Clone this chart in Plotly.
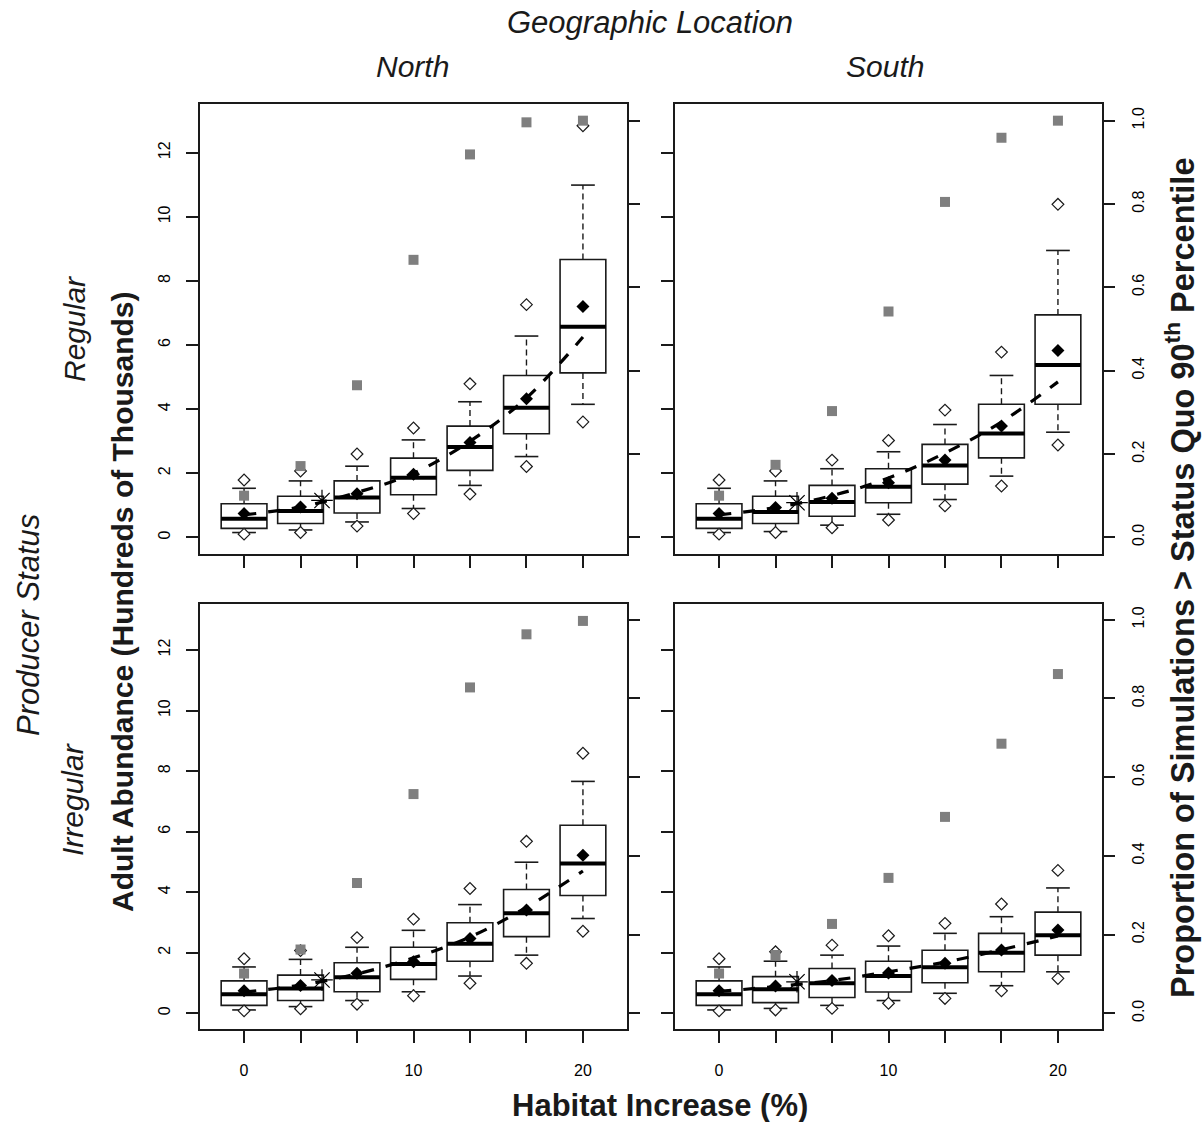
import plotly.graph_objects as go

# ---------------- data ----------------
POS = [0, 3.333, 6.667, 10, 13.333, 16.667, 20]
X_LABEL_VALS = [0, 10, 20]
X_LABEL_TEXT = ["0", "10", "20"]
X_MINOR_VALS = [3.333, 6.667, 13.333, 16.667]
Y_TICKS = [0, 2, 4, 6, 8, 10, 12]
P_TICKS = [0.0, 0.2, 0.4, 0.6, 0.8, 1.0]
P_TICK_TEXT = ["0.0", "0.2", "0.4", "0.6", "0.8", "1.0"]

LOCATIONS = ["North", "South"]
STATUSES = ["Regular", "Irregular"]

# North / Regular
NR_Q1 = [0.28, 0.43, 0.76, 1.33, 2.09, 3.23, 5.13]
NR_MED = [0.58, 0.82, 1.24, 1.86, 2.82, 4.04, 6.57]
NR_Q3 = [1.05, 1.28, 1.76, 2.47, 3.47, 5.05, 8.67]
NR_WLO = [0.15, 0.23, 0.48, 0.90, 1.62, 2.52, 4.15]
NR_WHI = [1.53, 1.76, 2.22, 3.04, 4.23, 6.28, 10.99]
NR_PLO = [0.10, 0.15, 0.35, 0.74, 1.35, 2.21, 3.60]
NR_PHI = [1.79, 2.07, 2.60, 3.41, 4.79, 7.26, 12.84]
NR_MEAN = [0.74, 0.95, 1.36, 1.97, 2.96, 4.32, 7.20]
NR_PROP = [0.10, 0.171, 0.365, 0.666, 0.919, 0.996, 1.0]
NR_TREND = [0.70, 0.95, 1.40, 2.00, 3.00, 4.35, 6.25]

# South / Regular
SR_Q1 = [0.28, 0.43, 0.66, 1.08, 1.66, 2.48, 4.15]
SR_MED = [0.58, 0.79, 1.10, 1.58, 2.24, 3.24, 5.38]
SR_Q3 = [1.05, 1.28, 1.62, 2.14, 2.90, 4.15, 6.94]
SR_WLO = [0.15, 0.18, 0.38, 0.72, 1.18, 1.91, 3.28]
SR_WHI = [1.53, 1.76, 2.14, 2.67, 3.52, 5.05, 8.95]
SR_PLO = [0.10, 0.15, 0.30, 0.54, 0.98, 1.60, 2.88]
SR_PHI = [1.79, 2.07, 2.41, 3.02, 3.97, 5.78, 10.39]
SR_MEAN = [0.74, 0.93, 1.22, 1.70, 2.41, 3.47, 5.83]
SR_PROP = [0.10, 0.174, 0.303, 0.542, 0.805, 0.959, 1.0]
SR_TREND = [0.70, 0.93, 1.30, 1.85, 2.63, 3.60, 4.85]

# North / Irregular
NI_Q1 = [0.26, 0.42, 0.71, 1.12, 1.72, 2.53, 3.89]
NI_MED = [0.63, 0.82, 1.19, 1.63, 2.30, 3.30, 4.95]
NI_Q3 = [1.07, 1.26, 1.67, 2.18, 2.99, 4.09, 6.21]
NI_WLO = [0.11, 0.22, 0.42, 0.71, 1.23, 1.92, 3.13]
NI_WHI = [1.53, 1.78, 2.18, 2.74, 3.59, 4.99, 7.66]
NI_PLO = [0.08, 0.15, 0.30, 0.58, 0.99, 1.65, 2.71]
NI_PHI = [1.80, 2.07, 2.50, 3.11, 4.12, 5.68, 8.59]
NI_MEAN = [0.74, 0.92, 1.32, 1.70, 2.47, 3.41, 5.22]
NI_PROP = [0.101, 0.162, 0.331, 0.557, 0.828, 0.963, 0.997]
NI_TREND = [0.70, 0.93, 1.30, 1.83, 2.52, 3.50, 4.70]

# South / Irregular
SI_Q1 = [0.26, 0.35, 0.52, 0.70, 1.01, 1.37, 1.92]
SI_MED = [0.63, 0.79, 0.99, 1.23, 1.52, 2.00, 2.58]
SI_Q3 = [1.07, 1.21, 1.48, 1.72, 2.08, 2.64, 3.34]
SI_WLO = [0.11, 0.16, 0.26, 0.42, 0.66, 0.91, 1.37]
SI_WHI = [1.53, 1.72, 1.92, 2.22, 2.64, 3.19, 4.14]
SI_PLO = [0.08, 0.11, 0.16, 0.33, 0.49, 0.74, 1.15]
SI_PHI = [1.80, 2.03, 2.25, 2.56, 2.97, 3.61, 4.72]
SI_MEAN = [0.74, 0.90, 1.08, 1.33, 1.65, 2.09, 2.75]
SI_PROP = [0.101, 0.148, 0.227, 0.344, 0.499, 0.685, 0.862]
SI_TREND = [0.72, 0.88, 1.08, 1.37, 1.69, 2.10, 2.55]

# status-quo reference point (asterisk)
STAR_X = [4.6, 4.6, 4.6, 4.6]
STAR_Y = [1.15, 1.08, 1.10, 1.04]

# ---------------- styling ----------------
FONT = "Liberation Sans, Arial, sans-serif"
INK = "#1a1a1a"
BOXW = 2.7
CAPW = 1.4
X_RANGE = [-2.6, 22.6]
Y_RANGE = [-0.52, 13.52]
P_RANGE = [-0.04, 1.04]
W, H = 1202, 1122

XDOM = [[200 / W, 627 / W], [675 / W, 1102 / W]]
YDOM = [[1 - 554 / H, 1 - 104 / H], [1 - 1029 / H, 1 - 604 / H]]

panels = [
    (0, 0, (NR_Q1, NR_MED, NR_Q3, NR_WLO, NR_WHI, NR_PLO, NR_PHI, NR_MEAN, NR_PROP, NR_TREND)),
    (0, 1, (SR_Q1, SR_MED, SR_Q3, SR_WLO, SR_WHI, SR_PLO, SR_PHI, SR_MEAN, SR_PROP, SR_TREND)),
    (1, 0, (NI_Q1, NI_MED, NI_Q3, NI_WLO, NI_WHI, NI_PLO, NI_PHI, NI_MEAN, NI_PROP, NI_TREND)),
    (1, 1, (SI_Q1, SI_MED, SI_Q3, SI_WLO, SI_WHI, SI_PLO, SI_PHI, SI_MEAN, SI_PROP, SI_TREND)),
]

fig = go.Figure()
layout = {}

for k, (row, col, d) in enumerate(panels):
    q1, med, q3, wlo, whi, plo, phi, mean, prop, trend = d
    n = k + 1
    xa = "x" if n == 1 else f"x{n}"
    ya = "y" if n == 1 else f"y{n}"
    ya2 = f"y{n + 4}"

    # boxes
    fig.add_trace(go.Box(
        x=POS, q1=q1, median=med, q3=q3, lowerfence=q1, upperfence=q3,
        width=BOXW, whiskerwidth=0, boxpoints=False,
        fillcolor="white", line=dict(color=INK, width=1.6),
        xaxis=xa, yaxis=ya, showlegend=False, hoverinfo="skip"))

    # dashed whiskers
    wx, wy = [], []
    for p, a, b, c, e in zip(POS, q3, whi, q1, wlo):
        wx += [p, p, None, p, p, None]
        wy += [a, b, None, c, e, None]
    fig.add_trace(go.Scatter(x=wx, y=wy, mode="lines",
                             line=dict(color=INK, width=1.4, dash="6px,4px"),
                             xaxis=xa, yaxis=ya, showlegend=False, hoverinfo="skip"))
    # whisker caps
    cx, cy = [], []
    for p, b, e in zip(POS, whi, wlo):
        cx += [p - CAPW / 2, p + CAPW / 2, None, p - CAPW / 2, p + CAPW / 2, None]
        cy += [b, b, None, e, e, None]
    fig.add_trace(go.Scatter(x=cx, y=cy, mode="lines",
                             line=dict(color=INK, width=1.6),
                             xaxis=xa, yaxis=ya, showlegend=False, hoverinfo="skip"))
    # thick medians
    mx, my = [], []
    for p, m in zip(POS, med):
        mx += [p - BOXW / 2, p + BOXW / 2, None]
        my += [m, m, None]
    fig.add_trace(go.Scatter(x=mx, y=my, mode="lines",
                             line=dict(color="black", width=4),
                             xaxis=xa, yaxis=ya, showlegend=False, hoverinfo="skip"))
    # fitted trend (dashed)
    fig.add_trace(go.Scatter(x=POS, y=trend, mode="lines",
                             line=dict(color="black", width=3.2, dash="12px,12px", shape="spline"),
                             xaxis=xa, yaxis=ya, showlegend=False, hoverinfo="skip"))
    # percentile diamonds
    fig.add_trace(go.Scatter(x=POS + POS, y=plo + phi, mode="markers",
                             marker=dict(symbol="diamond", size=9, color="white",
                                         line=dict(color=INK, width=1.2)),
                             xaxis=xa, yaxis=ya, showlegend=False, hoverinfo="skip"))
    # mean diamonds
    fig.add_trace(go.Scatter(x=POS, y=mean, mode="markers",
                             marker=dict(symbol="diamond", size=10, color="black"),
                             xaxis=xa, yaxis=ya, showlegend=False, hoverinfo="skip"))
    # status-quo asterisk
    fig.add_trace(go.Scatter(x=[STAR_X[k]], y=[STAR_Y[k]], mode="markers",
                             marker=dict(symbol="asterisk-open", size=18, color="black",
                                         line=dict(color="black", width=1.2)),
                             xaxis=xa, yaxis=ya, showlegend=False, hoverinfo="skip"))
    # proportion squares (right axis)
    fig.add_trace(go.Scatter(x=POS, y=prop, mode="markers",
                             marker=dict(symbol="square", size=10, color="#7f7f7f"),
                             xaxis=xa, yaxis=ya2, showlegend=False, hoverinfo="skip"))

    tickfont = dict(family=FONT, size=16, color="black")
    common = dict(showgrid=False, zeroline=False, ticks="outside", ticklen=12,
                  tickwidth=1.5, tickcolor=INK, tickfont=tickfont)
    layout["xaxis" if n == 1 else f"xaxis{n}"] = dict(
        domain=XDOM[col], anchor=ya, range=X_RANGE,
        tickmode="array", tickvals=X_LABEL_VALS, ticktext=X_LABEL_TEXT,
        minor=dict(tickmode="array", tickvals=X_MINOR_VALS, ticks="outside",
                   ticklen=12, tickwidth=1.5, tickcolor=INK, showgrid=False),
        showticklabels=(row == 1), ticklabelstandoff=14,
        showline=True, mirror=True, linecolor=INK, linewidth=1.5, **common)
    layout["yaxis" if n == 1 else f"yaxis{n}"] = dict(
        domain=YDOM[row], anchor=xa, range=Y_RANGE,
        tickmode="array", tickvals=Y_TICKS, ticktext=[str(v) for v in Y_TICKS],
        showticklabels=(col == 0), tickangle=-90, ticklabelstandoff=10,
        showline=True, mirror=True, linecolor=INK, linewidth=1.5, **common)
    layout[f"yaxis{n + 4}"] = dict(
        overlaying=ya, anchor=xa, side="right", range=P_RANGE,
        tickmode="array", tickvals=P_TICKS, ticktext=P_TICK_TEXT,
        showticklabels=(col == 1), tickangle=-90, ticklabelstandoff=10,
        showline=False, **common)


def ann(text, px, py, size, angle=0):
    return dict(text=text, x=px / W, y=1 - py / H, xref="paper", yref="paper",
                xanchor="center", yanchor="middle", showarrow=False,
                textangle=angle, font=dict(family=FONT, size=size, color="#1a1a1a"))


annotations = [
    ann("<i>Geographic Location</i>", 650, 22, 31),
    ann(f"<i>{LOCATIONS[0]}</i>", 413, 66, 30),
    ann(f"<i>{LOCATIONS[1]}</i>", 885, 66, 30),
    ann("<i>Producer Status</i>", 28, 625, 31, -90),
    ann(f"<i>{STATUSES[0]}</i>", 74, 329, 30, -90),
    ann(f"<i>{STATUSES[1]}</i>", 72, 800, 30, -90),
    ann("<b>Adult Abundance (Hundreds of Thousands)</b>", 122, 602, 30, -90),
    ann("<b>Proportion of Simulations &gt; Status Quo 90<sup>th</sup> Percentile</b>", 1180, 578, 32.5, -90),
    ann("<b>Habitat Increase (%)</b>", 660, 1105, 31),
]

fig.update_layout(
    width=W, height=H, margin=dict(l=0, r=0, t=0, b=0),
    paper_bgcolor="white", plot_bgcolor="white",
    showlegend=False, annotations=annotations, **layout)

fig.write_html("out.html")
